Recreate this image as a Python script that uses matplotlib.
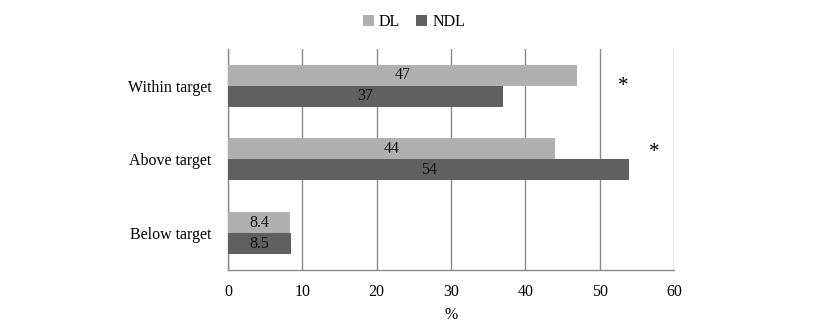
import matplotlib
matplotlib.use("Agg")
import matplotlib.pyplot as plt
import numpy as np

plt.rcParams["font.family"] = ["Liberation Serif", "DejaVu Serif"]

categories = ["Below target", "Above target", "Within target"]
dl_values = [8.4, 44, 47]
ndl_values = [8.5, 54, 37]
dl_labels = ["8.4", "44", "47"]
ndl_labels = ["8.5", "54", "37"]
# significance markers: (x value, category position)
star_x = [53.2, 57.3]
star_y = [1.99, 1.10]

DL_COLOR = "#b0b0b0"
NDL_COLOR = "#606060"
GRID_COLOR = "#8a8a8a"

fig = plt.figure(figsize=(8.2, 3.35), dpi=100)
ax = fig.add_axes([0.278, 0.194, 0.544, 0.66])

y = np.arange(len(categories))
h = 0.285
bars_dl = ax.barh(y + h / 2, dl_values, height=h, color=DL_COLOR, label="DL", zorder=3)
bars_ndl = ax.barh(y - h / 2, ndl_values, height=h, color=NDL_COLOR, label="NDL", zorder=3)

for bar, txt in zip(bars_dl, dl_labels):
    ax.text(bar.get_width() / 2, bar.get_y() + bar.get_height() / 2, txt,
            ha="center", va="center", fontsize=11.5, color="#111111", zorder=4)
for bar, txt in zip(bars_ndl, ndl_labels):
    ax.text(bar.get_width() / 2, bar.get_y() + bar.get_height() / 2, txt,
            ha="center", va="center", fontsize=11.5, color="#111111", zorder=4)

for sx, sy in zip(star_x, star_y):
    ax.text(sx, sy, "*", ha="center", va="center", fontsize=15, color="black")

ax.set_xlim(0, 60)
ax.set_ylim(-0.5, 2.5)
ax.set_xticks(np.arange(0, 61, 10))
ax.set_yticks(y)
ax.set_yticklabels(categories, fontsize=11.5)
ax.tick_params(axis="x", labelsize=11.5, length=0, pad=10)
ax.tick_params(axis="y", length=0, pad=12)
ax.set_xlabel("%", fontsize=11.5, labelpad=5)

ax.grid(axis="x", color=GRID_COLOR, linewidth=1, zorder=0)
for side in ["top", "right"]:
    ax.spines[side].set_visible(False)
for side in ["left", "bottom"]:
    ax.spines[side].set_color(GRID_COLOR)
    ax.spines[side].set_linewidth(1)

fig.legend(handles=[bars_dl, bars_ndl], labels=["DL", "NDL"], loc="center",
           bbox_to_anchor=(0.505, 0.935), ncol=2, frameon=False, fontsize=11.5,
           handlelength=0.7, handleheight=0.7, handletextpad=0.3, columnspacing=1.0)

fig.savefig("out.png", dpi=100)
